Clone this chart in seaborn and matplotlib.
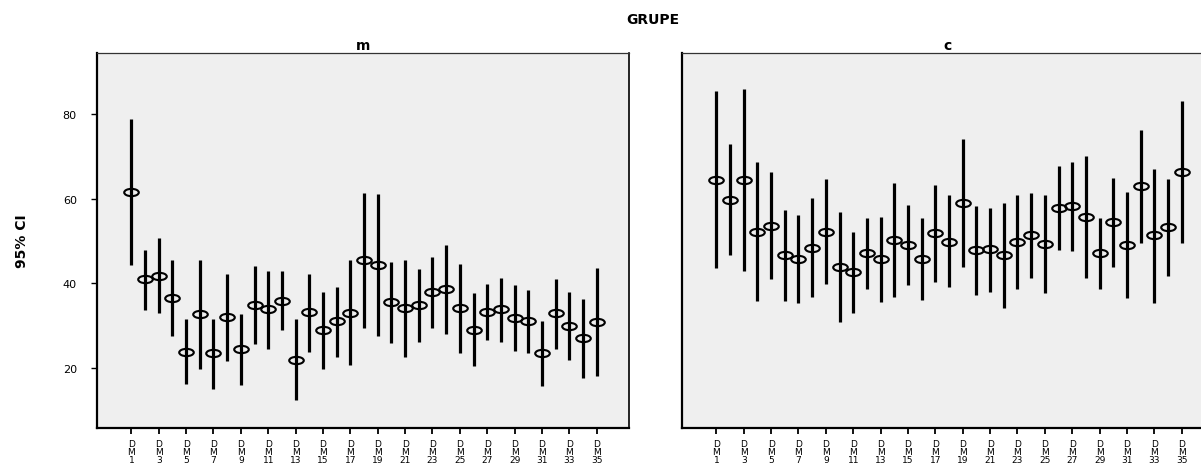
import numpy as np
import pandas as pd
import matplotlib
matplotlib.use('Agg')
import matplotlib.pyplot as plt
from matplotlib.path import Path
from matplotlib.transforms import Affine2D
import seaborn as sns

#categories DM1..DM35
categories = ['DM' + str(i) for i in range(1, 36)]

#group m: mean and 95% CI bounds
m_mean = [61.6, 40.9, 41.7, 36.4, 23.8, 32.7, 23.4, 31.9, 24.4, 34.9, 33.8, 35.8,
          21.9, 33.1, 28.9, 31.0, 32.9, 45.4, 44.3, 35.5, 34.2, 34.9, 37.8, 38.6,
          34.2, 29.0, 33.3, 33.8, 31.8, 31.0, 23.4, 32.9, 29.9, 27.0, 30.8]
m_lo = [44.3, 33.6, 32.9, 27.5, 16.1, 19.8, 15.1, 21.5, 15.9, 25.6, 24.5, 28.9,
        12.3, 23.8, 19.6, 22.6, 20.6, 29.4, 27.4, 25.9, 22.6, 26.2, 29.3, 27.9,
        23.6, 20.4, 26.5, 26.0, 23.9, 23.4, 15.6, 24.5, 21.8, 17.5, 18.0]
m_hi = [78.8, 47.9, 50.6, 45.4, 31.6, 45.5, 31.6, 42.1, 32.8, 44.0, 42.8, 42.8,
        31.6, 42.1, 38.0, 39.2, 45.4, 61.2, 61.1, 45.1, 45.4, 43.4, 46.1, 49.1,
        44.6, 37.6, 39.8, 41.3, 39.6, 38.4, 31.1, 41.1, 37.8, 36.2, 43.6]

#group c
c_mean = [64.5, 59.7, 64.4, 52.2, 53.6, 46.6, 45.7, 48.4, 52.2, 43.8, 42.6, 47.1,
          45.7, 50.2, 49.1, 45.7, 51.8, 49.8, 58.9, 47.8, 48.0, 46.6, 49.7, 51.4,
          49.3, 57.8, 58.2, 55.7, 47.1, 54.4, 49.1, 63.0, 51.4, 53.3, 66.2]
c_lo = [43.6, 46.6, 42.9, 35.9, 40.9, 35.7, 35.3, 36.7, 39.8, 30.8, 33.0, 38.7,
        35.6, 36.7, 39.6, 36.1, 40.2, 39.0, 43.8, 37.3, 38.0, 34.2, 38.6, 41.3,
        37.6, 47.8, 47.5, 41.3, 38.7, 43.9, 36.6, 49.6, 35.4, 41.8, 49.4]
c_hi = [85.4, 72.8, 85.8, 68.6, 66.2, 57.4, 56.0, 60.1, 64.6, 56.8, 52.1, 55.5,
        55.7, 63.7, 58.4, 55.3, 63.3, 60.8, 74.0, 58.2, 57.7, 58.9, 60.8, 61.2,
        60.8, 67.6, 68.7, 70.0, 55.5, 64.8, 61.5, 76.3, 67.1, 64.7, 83.1]

groups = {'m': (m_lo, m_mean, m_hi), 'c': (c_lo, c_mean, c_hi)}

#long table: median of (lo, mean, hi) is the mean, min-max is the CI
rows = []
for g, (lo, mn, hi) in groups.items():
    for i, cat in enumerate(categories):
        for v in (lo[i], mn[i], hi[i]):
            rows.append({'grupe': g, 'dm': cat, 'value': v})
df = pd.DataFrame(rows)

sns.set_theme(style='white')
plt.rcParams['font.family'] = ['DejaVu Sans']
plt.rcParams['text.color'] = 'black'

#flat open ellipse marker
ellipse = Path.unit_circle().transformed(Affine2D().scale(1.0, 0.5))

W, H = 1201, 464
fig = plt.figure(figsize=(W / 100, H / 100), dpi=100)

ax_pos = {'m': [97 / W, (H - 429.3) / H, 532 / W, 375.3 / H],
          'c': [682 / W, (H - 429.3) / H, 532 / W, 375.3 / H]}

for k, g in enumerate(['m', 'c']):
    ax = fig.add_axes(ax_pos[g])
    ax.set_facecolor('#efefef')
    sns.pointplot(data=df[df['grupe'] == g], x='dm', y='value', order=categories,
                  estimator='median', errorbar=('pi', 100), color='black',
                  markers=ellipse, linestyles='none', markersize=10.5,
                  markeredgewidth=1.5, markerfacecolor='none',
                  err_kws={'color': 'black', 'linewidth': 2.3, 'linestyle': '-',
                           'solid_capstyle': 'butt'},
                  ax=ax)
    ax.set_xlim(-2.51, 36.36)
    ax.set_ylim(5.7, 94.4)
    ax.set_xticks(range(0, 35, 2))
    ax.set_xticklabels(['D\nM\n' + str(i) for i in range(1, 36, 2)],
                       fontsize=6.5, linespacing=0.85, color='black')
    ax.tick_params(axis='x', length=4.5, width=1.3, pad=3, color='black', bottom=True)
    ax.set_xlabel('')
    if k == 0:
        ax.set_yticks([20, 40, 60, 80])
        ax.tick_params(axis='y', length=4.5, width=1.0, pad=10, labelsize=8,
                       color='black', labelcolor='black', left=True)
        ax.set_ylabel('95% CI', fontsize=10, fontweight='bold', labelpad=24,
                      color='black')
    else:
        ax.set_yticks([])
        ax.set_ylabel('')
    for side in ['left', 'bottom']:
        ax.spines[side].set_linewidth(1.6)
        ax.spines[side].set_color('black')
    ax.spines['top'].set_linewidth(0.9)
    ax.spines['top'].set_color('#333333')
    ax.spines['right'].set_linewidth(1.2)
    ax.spines['right'].set_color('black')
    ax.set_title(g, fontsize=10, fontweight='bold', pad=3, color='black')

fig.text(653 / W, 1 - 20 / H, 'GRUPE', ha='center', va='center',
         fontsize=10, fontweight='bold', color='black')

plt.savefig('out.png', dpi=100)
